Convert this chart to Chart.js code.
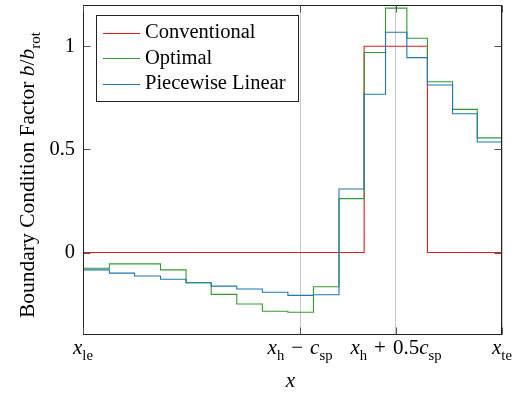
<!DOCTYPE html>
<html>
<head>
<meta charset="utf-8">
<script src="https://cdn.jsdelivr.net/npm/chart.js@4/dist/chart.umd.min.js"></script>
<style>
  html, body { margin: 0; padding: 0; background: #fff; }
  canvas { display: block; }
</style>
</head>
<body>
<canvas id="bc-chart" width="523" height="397"></canvas>
<script>
// panel edges along the chord, x_le = 0 ... x_te = 1
var edges = [0, 0.063, 0.123, 0.185, 0.246, 0.306, 0.367, 0.428, 0.489, 0.550, 0.611, 0.671, 0.722, 0.773, 0.822, 0.882, 0.941, 1];

// one value per panel
var conventional = [0, 0, 0, 0, 0, 0, 0, 0, 0, 0, 0, 1, 1, 1, 0, 0, 0];
var optimal = [-0.076, -0.055, -0.055, -0.084, -0.147, -0.203, -0.250, -0.285, -0.290, -0.166, 0.261, 0.970, 1.185, 1.039, 0.828, 0.694, 0.556];
var piecewise = [-0.084, -0.100, -0.114, -0.130, -0.147, -0.163, -0.177, -0.193, -0.208, -0.205, 0.308, 0.767, 1.068, 0.945, 0.812, 0.673, 0.536];

var seriesNames = ['Conventional', 'Optimal', 'Piecewise Linear'];
var seriesColors = ['#e41a1c', '#2ca02c', '#1f77b4'];

var xTicks = [0, 0.518, 0.747, 1];
// [text, style]  i = italic, r = roman, s = subscript
var xTickLabels = [
    [['x', 'i'], ['le', 's']],
    [['x', 'i'], ['h', 's'], ['\u2004\u2212\u2004', 'r'], ['c', 'i'], ['sp', 's']],
    [['x', 'i'], ['h', 's'], ['\u2004+\u20040.5', 'r'], ['c', 'i'], ['sp', 's']],
    [['x', 'i'], ['te', 's']]
];
var yTicks = [0, 0.5, 1];
var yTickLabels = ['0', '0.5', '1'];

var FONT = '"Liberation Serif", "DejaVu Serif", serif';

function steps(values) {
    var pts = values.map(function (v, i) { return {x: edges[i], y: v}; });
    pts.push({x: edges[edges.length - 1], y: values[values.length - 1]});
    return pts;
}

function setFont(ctx, style, size) {
    size = size || 20;
    if (style === 'i') ctx.font = 'italic ' + size + 'px ' + FONT;
    else if (style === 's') ctx.font = (size * 0.7) + 'px ' + FONT;
    else ctx.font = size + 'px ' + FONT;
}

function mathWidth(ctx, parts, size) {
    var w = 0;
    parts.forEach(function (p) { setFont(ctx, p[1], size); w += ctx.measureText(p[0]).width; });
    return w;
}

// draws a run of mixed text, left end at x, baseline at y
function drawMath(ctx, parts, x, y, size) {
    size = size || 20;
    ctx.textAlign = 'left';
    ctx.textBaseline = 'alphabetic';
    parts.forEach(function (p) {
        setFont(ctx, p[1], size);
        ctx.fillText(p[0], x, p[1] === 's' ? y + size * 0.27 : y);
        x += ctx.measureText(p[0]).width;
    });
}

var framePlugin = {
    id: 'frame',
    afterDatasetsDraw: function (chart) {
        var ctx = chart.ctx;
        var a = chart.chartArea;
        var xs = chart.scales.x, ys = chart.scales.y;
        var L = Math.round(a.left) + 0.5, R = Math.round(a.right) - 0.5;
        var T = Math.round(a.top) + 0.5, B = Math.round(a.bottom) - 0.5;
        ctx.save();
        ctx.strokeStyle = '#222';
        ctx.lineWidth = 1;
        ctx.strokeRect(L, T, R - L, B - T);

        // inward ticks on all four sides
        ctx.strokeStyle = '#555';
        ctx.beginPath();
        yTicks.forEach(function (v) {
            var py = Math.round(ys.getPixelForValue(v)) + 0.5;
            ctx.moveTo(L, py); ctx.lineTo(L + 7, py);
            ctx.moveTo(R, py); ctx.lineTo(R - 7, py);
        });
        xTicks.forEach(function (v) {
            var px = Math.round(xs.getPixelForValue(v)) + 0.5;
            ctx.moveTo(px, B); ctx.lineTo(px, B - 7);
            ctx.moveTo(px, T); ctx.lineTo(px, T + 7);
        });
        ctx.stroke();

        ctx.fillStyle = '#000';
        // y tick labels
        ctx.font = '20.5px ' + FONT;
        ctx.textAlign = 'right';
        ctx.textBaseline = 'middle';
        yTicks.forEach(function (v, i) {
            ctx.fillText(yTickLabels[i], a.left - 8, ys.getPixelForValue(v));
        });
        // x tick labels
        xTicks.forEach(function (v, i) {
            var w = mathWidth(ctx, xTickLabels[i], 21);
            drawMath(ctx, xTickLabels[i], xs.getPixelForValue(v) - w / 2, a.bottom + 19, 21);
        });
        // axis titles
        var xt = [['x', 'i']];
        drawMath(ctx, xt, (a.left + a.right) / 2 - 2 - mathWidth(ctx, xt, 21) / 2, 387, 21);

        var yt = [['Boundary Condition Factor ', 'r'], ['b', 'i'], ['/', 'r'], ['b', 'i'], ['rot', 's']];
        ctx.translate(34, 175);
        ctx.rotate(-Math.PI / 2);
        drawMath(ctx, yt, -mathWidth(ctx, yt, 21.5) / 2, 0, 21.5);
        ctx.restore();

        // legend box
        ctx.save();
        ctx.fillStyle = '#fff';
        ctx.fillRect(97, 15, 202, 87);
        ctx.strokeStyle = '#222';
        ctx.lineWidth = 1;
        ctx.strokeRect(96.5, 15.5, 202, 86);
        ctx.font = '20.5px ' + FONT;
        ctx.textAlign = 'left';
        ctx.textBaseline = 'alphabetic';
        seriesNames.forEach(function (name, i) {
            var base = 38 + i * 25.5;
            ctx.strokeStyle = seriesColors[i];
            ctx.beginPath();
            ctx.moveTo(103, Math.round(base - 5.5) + 0.5);
            ctx.lineTo(140, Math.round(base - 5.5) + 0.5);
            ctx.stroke();
            ctx.fillStyle = '#000';
            ctx.fillText(name, 145, base);
        });
        ctx.restore();
    }
};

var data = {
    datasets: [
        {label: seriesNames[0], data: steps(conventional), borderColor: seriesColors[0], order: 3},
        {label: seriesNames[1], data: steps(optimal), borderColor: seriesColors[1], order: 2},
        {label: seriesNames[2], data: steps(piecewise), borderColor: seriesColors[2], order: 1}
    ].map(function (d) {
        d.stepped = true;
        d.borderWidth = 1.1;
        d.pointRadius = 0;
        d.fill = false;
        return d;
    })
};

var layout = {
    type: 'line',
    data: data,
    options: {
        responsive: false,
        animation: false,
        layout: {
            padding: {left: 83, right: 21, top: 5, bottom: 62}
        },
        plugins: {
            legend: {display: false},
            tooltip: {enabled: false}
        },
        scales: {
            x: {
                type: 'linear',
                min: 0,
                max: 1,
                afterBuildTicks: function (scale) {
                    scale.ticks = xTicks.map(function (v) { return {value: v}; });
                },
                ticks: {display: false},
                grid: {color: '#c8c8c8', lineWidth: 1, drawTicks: false},
                border: {display: false}
            },
            y: {
                type: 'linear',
                min: -0.4,
                max: 1.2,
                ticks: {display: false},
                grid: {display: false, drawTicks: false},
                border: {display: false}
            }
        }
    },
    plugins: [framePlugin]
};

new Chart(document.getElementById('bc-chart'), layout);
</script>
</body>
</html>
